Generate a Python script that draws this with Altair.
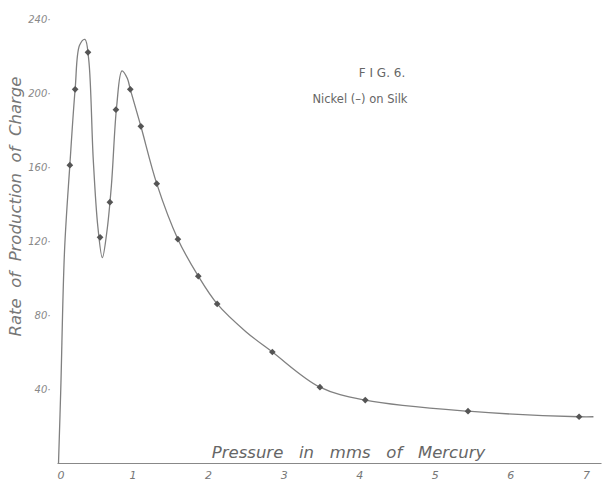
import altair as alt
import pandas as pd

# Measured points (pressure in mm Hg, rate of production of charge)
pt_x = [0.17, 0.24, 0.41, 0.57, 0.70, 0.78, 0.97, 1.11, 1.32, 1.60, 1.87, 2.12, 2.85, 3.48, 4.08, 5.44, 6.91]
pt_y = [161, 202, 222, 122, 141, 191, 202, 182, 151, 121, 101, 86, 60, 41, 34, 28, 25]

# Drawn curve
cv_x = [0.02, 0.05, 0.10, 0.17, 0.24, 0.30, 0.37, 0.42, 0.48, 0.54, 0.60, 0.66, 0.72, 0.79, 0.86,
        0.93, 0.97, 1.11, 1.32, 1.60, 1.87, 2.12, 2.50, 2.85, 3.48, 4.08, 5.44, 6.91, 7.10]
cv_y = [0, 40, 115, 161, 202, 226, 229, 218, 164, 128, 111, 125, 150, 193, 212,
        208, 202, 182, 151, 121, 101, 86, 71, 60, 41, 34, 28, 25, 25]

x_ticks = [0, 1, 2, 3, 4, 5, 6, 7]
y_ticks = [40, 80, 120, 160, 200, 240]

pts = pd.DataFrame({"p": pt_x, "r": pt_y})
curve = pd.DataFrame({"p": cv_x, "r": cv_y, "o": list(range(len(cv_x)))})

gx = " " + "\u00a0" * 2
gy = " " + "\u00a0"
x_title = gx.join(["Pressure", "in", "mms", "of", "Mercury"])
y_title = gy.join(["Rate", "of", "Production", "of", "Charge"])

W, H = 544, 444
xs = alt.Scale(domain=[0, 7.2], nice=False, zero=False)
ys = alt.Scale(domain=[0, 240], nice=False)

xaxis = alt.Axis(values=x_ticks, format="d", ticks=False, grid=False, domainColor="#888", domainWidth=1.2,
                 labelFont="DejaVu Sans", labelFontStyle="italic", labelFontSize=11,
                 labelColor="#777", labelPadding=6,
                 title=x_title, titleFont="DejaVu Sans",
                 titleFontStyle="italic", titleFontWeight="normal", titleFontSize=16.5,
                 titleColor="#666", titleX=291, titleY=-6, titleBaseline="alphabetic")
yaxis = alt.Axis(values=y_ticks, ticks=False, grid=False, domain=False,
                 labelFont="DejaVu Sans", labelFontStyle="italic", labelFontSize=10,
                 labelColor="#888", labelPadding=7, labelExpr="datum.label + '·'",
                 title=y_title, titleFont="DejaVu Sans",
                 titleFontStyle="italic", titleFontWeight="normal", titleFontSize=16.5,
                 titleColor="#777", titleX=-42, titleY=187, titleAlign="center",
                 titleBaseline="middle")

line = alt.Chart(curve).mark_line(color="#808080", strokeWidth=1.3, interpolate="catmull-rom").encode(
    x=alt.X("p:Q", scale=xs, axis=xaxis),
    y=alt.Y("r:Q", scale=ys, axis=yaxis),
    order="o:Q",
)
dots = alt.Chart(pts).mark_point(shape="diamond", filled=True, color="#555", size=45, opacity=1).encode(
    x=alt.X("p:Q", scale=xs),
    y=alt.Y("r:Q", scale=ys),
)
fig = alt.Chart(pd.DataFrame({"t": ["F I G. 6."]})).mark_text(
    font="DejaVu Sans", fontSize=12, color="#666", align="center", baseline="middle"
).encode(text="t:N", x=alt.value(325), y=alt.value(54))
sub = alt.Chart(pd.DataFrame({"t": ["Nickel (–) on Silk"]})).mark_text(
    font="DejaVu Sans", fontSize=11.5, color="#666", align="center", baseline="middle"
).encode(text="t:N", x=alt.value(303), y=alt.value(81))

chart = alt.layer(line, dots, fig, sub).properties(
    width=W, height=H, autosize=alt.AutoSizeParams(type="none"),
    padding={"left": 57, "top": 19, "right": 10, "bottom": 23},
    background="white",
).configure_view(stroke=None)

chart.save("out.html", embed_options={"renderer": "svg", "actions": False})
